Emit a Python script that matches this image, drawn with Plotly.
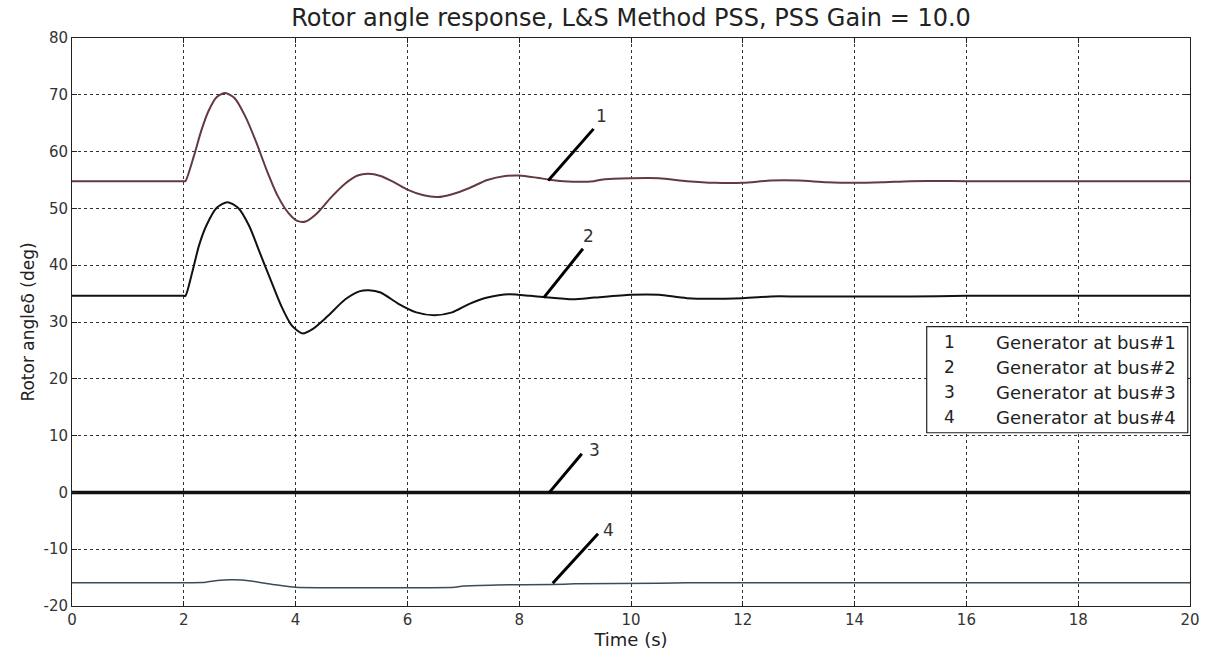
import plotly.graph_objects as go

# ---- data ----
t1 = [0, 2.0, 2.03, 2.18, 2.31, 2.44, 2.59, 2.74, 2.91, 3.10, 3.29, 3.48, 3.68, 3.87, 4.03, 4.18,
      4.38, 4.63, 4.89, 5.11, 5.30, 5.52, 5.78, 6.0, 6.29, 6.54, 6.80, 7.11, 7.43, 7.75, 8.0, 8.32,
      8.58, 8.96, 9.34, 9.5, 10.0, 10.5, 11.0, 11.5, 12.0, 12.5, 13.0, 13.5, 14.0, 14.5, 15.0, 16.0,
      17.0, 18.0, 19.0, 20.0]
gen1 = [54.8, 54.8, 54.8, 59.2, 63.6, 67.1, 69.6, 70.3, 69.4, 66.2, 61.8, 56.8, 52.2, 49.2, 47.8, 47.7,
        49.1, 51.9, 54.4, 55.8, 56.1, 55.7, 54.5, 53.3, 52.3, 52.0, 52.5, 53.6, 55.0, 55.7, 55.8, 55.4,
        55.0, 54.7, 54.8, 55.1, 55.3, 55.3, 54.8, 54.5, 54.5, 54.9, 54.9, 54.6, 54.5, 54.6, 54.8, 54.8,
        54.8, 54.8, 54.8, 54.8]

t2 = [0, 2.0, 2.03, 2.15, 2.27, 2.40, 2.59, 2.78, 2.97, 3.17, 3.36, 3.55, 3.74, 3.93, 4.12, 4.31,
      4.57, 4.89, 5.14, 5.31, 5.52, 5.84, 6.16, 6.48, 6.80, 7.11, 7.43, 7.82, 8.20, 8.43, 8.96, 9.34,
      10.0, 10.5, 11.0, 12.0, 12.5, 13.0, 14.0, 15.0, 16.0, 17.0, 18.0, 19.0, 20.0]
gen2 = [34.6, 34.6, 34.6, 38.7, 43.4, 46.9, 50.1, 51.1, 50.1, 46.9, 42.2, 37.5, 32.9, 29.4, 28.0, 28.8,
        31.0, 34.0, 35.4, 35.6, 35.2, 33.2, 31.7, 31.2, 31.7, 33.2, 34.3, 34.9, 34.6, 34.4, 34.0, 34.3,
        34.8, 34.8, 34.2, 34.2, 34.5, 34.5, 34.5, 34.5, 34.6, 34.6, 34.6, 34.6, 34.6]

t3 = [0, 20.0]
gen3 = [0.0, 0.0]

t4 = [0, 2.0, 2.4, 2.6, 2.9, 3.2, 3.6, 4.0, 6.85, 7.0, 7.6, 8.6, 9.0, 10.5, 11.0, 20.0]
gen4 = [-15.9, -15.9, -15.8, -15.5, -15.4, -15.6, -16.2, -16.7, -16.7, -16.5, -16.3, -16.2, -16.1,
        -16.0, -15.9, -15.9]

x_ticks = [0, 2, 4, 6, 8, 10, 12, 14, 16, 18, 20]
y_ticks = [-20, -10, 0, 10, 20, 30, 40, 50, 60, 70, 80]

curve_labels = ["1", "2", "3", "4"]
# leader line start (on curve), end, and label position, in data units
leader_start = [(8.52, 54.9), (8.44, 34.3), (8.54, 0.0), (8.60, -16.0)]
leader_end = [(9.33, 64.0), (9.14, 42.9), (9.12, 6.8), (9.41, -7.3)]
label_pos = [(9.48, 66.3), (9.24, 45.1), (9.34, 7.4), (9.60, -6.6)]

legend_numbers = ["1", "2", "3", "4"]
legend_texts = ["Generator at bus#1", "Generator at bus#2", "Generator at bus#3", "Generator at bus#4"]
legend_rows_y = [26.4, 22.0, 17.6, 13.2]

title = "Rotor angle response, L&S Method PSS, PSS Gain = 10.0"

FONT = "DejaVu Sans, Verdana, sans-serif"

# ---- figure ----
fig = go.Figure()
fig.add_trace(go.Scatter(x=t1, y=gen1, mode="lines",
                         line=dict(color="#633a40", width=2, shape="spline", smoothing=0.7), showlegend=False))
fig.add_trace(go.Scatter(x=t2, y=gen2, mode="lines",
                         line=dict(color="#111111", width=2, shape="spline", smoothing=0.7), showlegend=False))
fig.add_trace(go.Scatter(x=t3, y=gen3, mode="lines", line=dict(color="#111111", width=3.5), showlegend=False))
fig.add_trace(go.Scatter(x=t4, y=gen4, mode="lines",
                         line=dict(color="#3d4b56", width=1.5, shape="spline", smoothing=0.5), showlegend=False))

shapes = []
annotations = []
for lab, s, e, p in zip(curve_labels, leader_start, leader_end, label_pos):
    shapes.append(dict(type="line", xref="x", yref="y", x0=s[0], y0=s[1], x1=e[0], y1=e[1],
                       line=dict(color="#000000", width=3)))
    annotations.append(dict(x=p[0], y=p[1], xref="x", yref="y", text=lab, showarrow=False,
                            font=dict(family=FONT, size=17, color="#333333")))

# legend box
shapes.append(dict(type="rect", xref="x", yref="y", x0=15.29, x1=19.96, y0=10.5, y1=29.2,
                   fillcolor="white", line=dict(color="#222222", width=1.2), layer="above"))
for n, txt, yy in zip(legend_numbers, legend_texts, legend_rows_y):
    annotations.append(dict(x=15.7, y=yy, xref="x", yref="y", text=n, showarrow=False,
                            xanchor="center", font=dict(family=FONT, size=17, color="#222222")))
    annotations.append(dict(x=16.5, y=yy, xref="x", yref="y", text=txt, showarrow=False,
                            xanchor="left", font=dict(family=FONT, size=18, color="#222222")))

fig.update_layout(
    width=1212, height=659,
    margin=dict(l=72, r=20, t=38, b=53),
    paper_bgcolor="white", plot_bgcolor="white",
    title=dict(text=title, x=0.5, xref="paper", y=0.974, yanchor="middle",
               font=dict(family=FONT, size=24, color="#222222")),
    shapes=shapes, annotations=annotations,
    font=dict(family=FONT, size=15, color="#333333"),
)
axis_common = dict(
    showline=True, linecolor="#222222", linewidth=1, mirror="ticks",
    ticks="inside", ticklen=5, tickcolor="#222222",
    showgrid=True, gridcolor="#333333", gridwidth=1, griddash="3px,3px",
    zeroline=False, tickfont=dict(family=FONT, size=15, color="#333333"),
)
fig.update_xaxes(range=[0, 20], tickvals=x_ticks, ticktext=[str(v) for v in x_ticks],
                 title=dict(text="Time (s)", standoff=2,
                            font=dict(family=FONT, size=18, color="#222222")),
                 **axis_common)
fig.update_yaxes(range=[-20, 80], tickvals=y_ticks, ticktext=[str(v) for v in y_ticks],
                 title=dict(text="Rotor angleδ (deg)", standoff=4,
                            font=dict(family=FONT, size=17, color="#222222")),
                 **axis_common)

fig.write_html("out.html")
